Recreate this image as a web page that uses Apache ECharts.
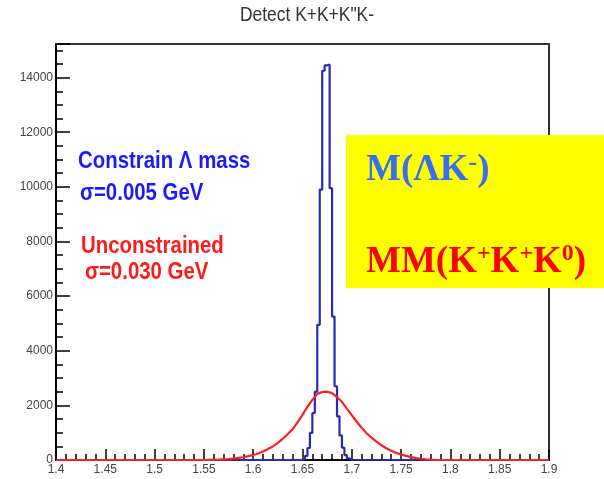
<!DOCTYPE html>
<html>
<head>
<meta charset="utf-8">
<script src="https://cdn.jsdelivr.net/npm/echarts@6/dist/echarts.min.js"></script>
<style>html,body{margin:0;padding:0;background:#fff}#c{width:604px;height:479px}</style>
</head>
<body>
<div id="c"></div>
<script>
// ---- data ----
const chartTitle = 'Detect K+K+K"K-';
const xTickLabels = ['1.4','1.45','1.5','1.55','1.6','1.65','1.7','1.75','1.8','1.85','1.9'];
const yTickLabels = ['0','2000','4000','6000','8000','10000','12000','14000'];

// Constrained (blue) histogram: bin lower edges (width 0.0025 GeV) and counts
const blueEdges  = [1.6500,1.6525,1.6550,1.6575,1.6600,1.6625,1.6650,1.6675,1.6700,1.6725,1.6750,1.6775,1.6800,1.6825,1.6850,1.6875,1.6900,1.6925,1.6950,1.6975,1.7000];
const blueCounts = [40,150,440,990,1720,2500,4950,9900,14250,14450,14480,9950,5250,2700,1600,900,450,180,60,10,0];

// Unconstrained (red) distribution
const redX = [1.55,1.555,1.56,1.565,1.57,1.575,1.58,1.585,1.59,1.595,1.60,1.605,1.61,1.615,1.62,1.625,1.63,1.635,1.64,1.645,1.65,1.655,1.66,1.665,1.67,1.675,1.68,1.685,1.69,1.695,1.70,1.705,1.71,1.715,1.72,1.725,1.73,1.735,1.74,1.745,1.75,1.755,1.76,1.765,1.77,1.775,1.78,1.785,1.79];
const redY = [0,5,10,15,25,35,55,75,100,140,185,240,310,400,500,630,780,950,1130,1380,1650,1950,2200,2420,2490,2500,2450,2300,2130,1880,1640,1400,1180,980,820,670,540,430,340,260,200,150,105,70,45,25,12,5,0];

const xMin = 1.4, xMax = 1.9, yMin = 0, yMax = 15230;

const blueData = [[xMin,0]].concat(blueEdges.map((e,i)=>[e,blueCounts[i]])).concat([[xMax,0]]);
const redData = [[xMin,0]].concat(redX.map((x,i)=>[x,redY[i]])).concat([[xMax,0]]);

const chart = echarts.init(document.getElementById('c'), null, {renderer:'canvas'});
const sans = 'Liberation Sans, Arial, Helvetica, sans-serif';
const serif = 'Liberation Serif, Times New Roman, serif';

function txt(text, x, y, size, color, sx, extra) {
  return Object.assign({
    type:'text', x:x, y:y, scaleX:sx, z:50,
    style:{text:text, fill:color, font:'bold '+size+'px '+sans, verticalAlign:'middle', align:'left'}
  }, extra||{});
}

chart.setOption({
  animation:false,
  backgroundColor:'#fff',
  grid:{left:56, right:55, top:44, bottom:19, show:true, borderColor:'#333', borderWidth:2, backgroundColor:'transparent'},
  xAxis:{
    type:'value', min:xMin, max:xMax, interval:0.05,
    axisLine:{show:true, lineStyle:{color:'#000', width:2}},
    axisTick:{show:true, inside:true, length:11, lineStyle:{color:'#000', width:1.5}},
    minorTick:{show:true, splitNumber:5, length:6, lineStyle:{color:'#000', width:1.5}},
    splitLine:{show:false},
    axisLabel:{margin:4, fontSize:12, color:'#444', fontFamily:sans,
      formatter:function(v){ const s = String(+v.toFixed(2)); return xTickLabels.indexOf(s)>=0 ? s : ''; }}
  },
  yAxis:{
    type:'value', min:yMin, max:yMax, interval:2000,
    axisLine:{show:true, lineStyle:{color:'#000', width:2}},
    axisTick:{show:true, inside:true, length:14, lineStyle:{color:'#000', width:1.5}},
    minorTick:{show:true, splitNumber:4, length:7, lineStyle:{color:'#000', width:1.5}},
    splitLine:{show:false},
    axisLabel:{margin:3, fontSize:12, color:'#444', fontFamily:sans,
      formatter:function(v){ const s = String(Math.round(v)); return yTickLabels.indexOf(s)>=0 ? s : ''; }}
  },
  series:[
    {type:'line', name:'constrained', data:blueData, step:'end', showSymbol:false, z:3,
     lineStyle:{color:'#2a2ab8', width:2.2}},
    {type:'line', name:'unconstrained', data:redData, showSymbol:false, z:4,
     lineStyle:{color:'#ff1f1f', width:2.2}}
  ],
  graphic:[
    {type:'text', x:307, y:15, scaleX:0.83, z:50,
     style:{text:chartTitle, fill:'#333', font:'21px '+sans, align:'center', verticalAlign:'middle'}},
    txt('Constrain \u039B mass', 78, 161, 24, '#1a1aff', 0.85),
    txt('\u03C3=0.005 GeV', 80, 193, 24, '#1a1aff', 0.85),
    txt('Unconstrained', 81, 246, 24, '#ff1a1a', 0.85),
    txt('\u03C3=0.030 GeV', 85, 272, 24, '#ff1a1a', 0.85),
    {type:'rect', z:90, shape:{x:346, y:135, width:258, height:153}, style:{fill:'#ffff00'}},
    {type:'text', x:366, y:170, z:100,
     style:{text:'{a|M(\u039BK}{s|-}{a|)}', verticalAlign:'middle', align:'left',
       rich:{a:{fontSize:37, fontWeight:'bold', fontFamily:serif, fill:'#3a6ef0', lineHeight:40},
             s:{fontSize:26, fontWeight:'bold', fontFamily:serif, fill:'#3a6ef0', verticalAlign:'top', lineHeight:26}}}},
    {type:'text', x:366, y:262, z:100,
     style:{text:'{a|MM(K}{s|+}{a|K}{s|+}{a|K}{s|0}{a|)}', verticalAlign:'middle', align:'left',
       rich:{a:{fontSize:37, fontWeight:'bold', fontFamily:serif, fill:'#ff0000', lineHeight:40},
             s:{fontSize:24, fontWeight:'bold', fontFamily:serif, fill:'#ff0000', verticalAlign:'top', lineHeight:24}}}}
  ]
});
</script>
</body>
</html>
